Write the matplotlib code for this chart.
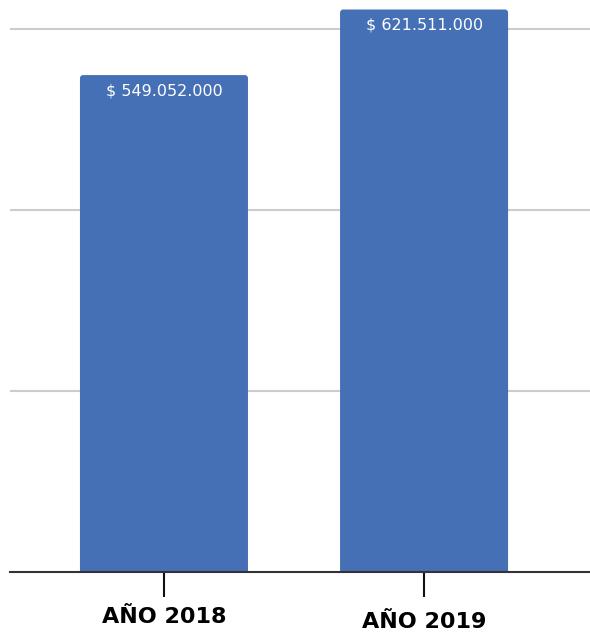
import matplotlib
matplotlib.use("Agg")
import matplotlib.pyplot as plt
import matplotlib.transforms as mtransforms
from matplotlib.patches import FancyBboxPatch

categories = ["AÑO 2018", "AÑO 2019"]
values = [549052000, 621511000]
value_labels = ["$ 549.052.000", "$ 621.511.000"]
gridlines = [200e6, 400e6, 600e6]

bar_color = "#4670B6"

fig = plt.figure(figsize=(5.9, 6.33), dpi=100)
ax = fig.add_axes([10/590, 61/633, 580/590, 572/633])

x = list(range(len(categories)))
bars = ax.bar(x, values, width=0.646, color=bar_color, zorder=3)

ax.set_xlim(-0.592, 1.638)
ax.set_ylim(0, 632e6)

# rounded top corners (bottom corners hidden below the axis)
for b in bars:
    bx, bw, bh = b.get_x(), b.get_width(), b.get_height()
    b.set_visible(False)
    p = FancyBboxPatch((bx, -10e6), bw, bh + 10e6,
                       boxstyle="round,pad=0,rounding_size=0.012",
                       mutation_aspect=2.9e8, facecolor=bar_color,
                       edgecolor="none", zorder=3, clip_on=True)
    ax.add_patch(p)

for g in gridlines:
    ax.axhline(g, color="#cccccc", linewidth=1.5, zorder=1)

for xi, v, lab in zip(x, values, value_labels):
    ax.annotate(lab, (xi, v), xytext=(0, -11.5), textcoords="offset points",
                ha="center", va="center", color="white", fontsize=11.5,
                family="DejaVu Sans", zorder=4)

for s in ["top", "right", "left"]:
    ax.spines[s].set_visible(False)
ax.spines["bottom"].set_color("#333333")
ax.spines["bottom"].set_linewidth(1.5)
ax.spines["bottom"].set_zorder(5)
ax.set_yticks([])
ax.set_xticks(x)
ax.set_xticklabels(categories, fontsize=16, fontweight="bold",
                   family="DejaVu Sans")
ax.tick_params(axis="x", length=18, width=1.5, color="#111111", pad=7,
               direction="out")

# second label sits slightly lower in the reference
lbls = ax.get_xticklabels()
lbls[1].set_transform(lbls[1].get_transform() +
                      mtransforms.ScaledTranslation(0, -5/100, fig.dpi_scale_trans))

fig.savefig("out.png", dpi=100)
